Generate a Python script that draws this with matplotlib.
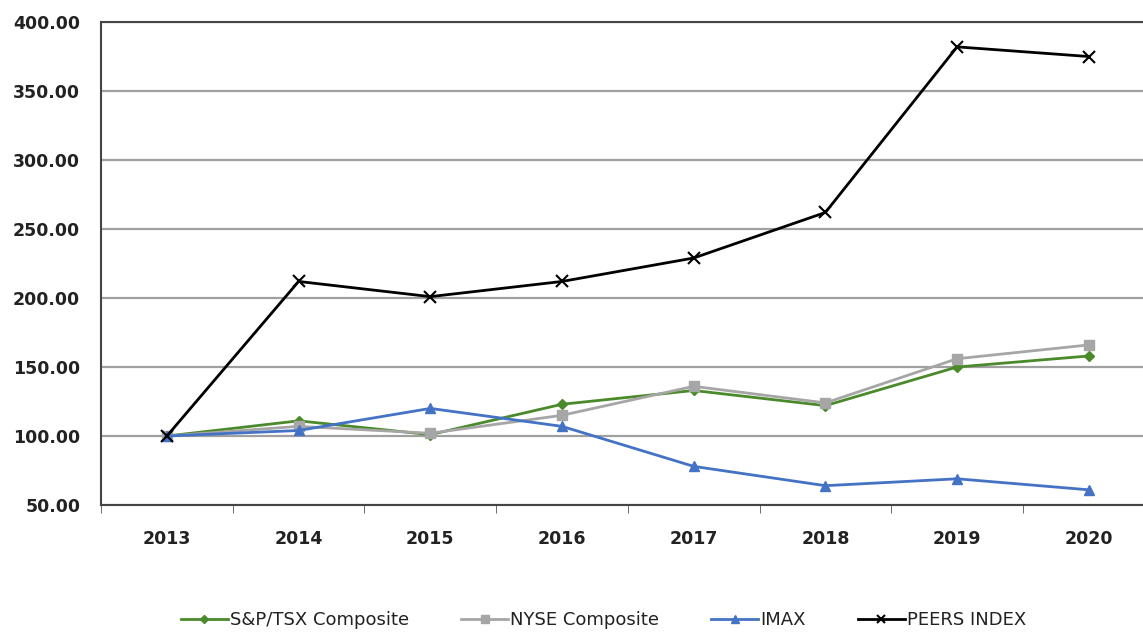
import matplotlib.pyplot as plt
import numpy as np

# Values
years = ['2013', '2014', '2015', '2016', '2017', '2018', '2019', '2020']
sp_tsx = [100, 111, 101, 123, 133, 122, 150, 158]
nyse = [100, 107, 102, 115, 136, 124, 156, 166]
imax = [100, 104, 120, 107, 78, 64, 69, 61]
peers = [100, 212, 201, 212, 229, 262, 382, 375]

fig = plt.figure(figsize=(11.43, 6.33), dpi=100)
ax = fig.add_axes([0.0884, 0.2022, 0.9218, 0.763])

x = np.arange(len(years))
ax.plot(x, sp_tsx, color='#4a8a2a', lw=2, marker='D', ms=5, label='S&P/TSX Composite')
ax.plot(x, nyse, color='#a6a6a6', lw=2, marker='s', ms=7, label='NYSE Composite')
ax.plot(x, imax, color='#4472c4', lw=2, marker='^', ms=7, label='IMAX')
ax.plot(x, peers, color='black', lw=2, marker='x', ms=8, mew=1.5, label='PEERS INDEX')

ax.set_ylim(50, 400)
ax.set_yticks(np.arange(50, 401, 50))
ax.set_yticklabels([f'{v:.2f}' for v in np.arange(50, 401, 50)])
ax.set_xlim(-0.5, len(years) - 0.5)
ax.set_xticks(x)
ax.set_xticklabels(years)
ax.set_xticks(np.arange(-0.5, len(years), 1), minor=True)
ax.tick_params(axis='x', which='major', length=0, pad=18)
ax.tick_params(axis='x', which='minor', length=6, color='#555555')
ax.tick_params(axis='y', length=0, pad=15)
for lab in ax.get_xticklabels() + ax.get_yticklabels():
    lab.set_fontweight('bold')
    lab.set_fontsize(12.5)
    lab.set_color('#222222')

ax.yaxis.grid(True, color='#a0a0a0', lw=1.6)
ax.set_axisbelow(True)
for s in ['left', 'top', 'bottom']:
    ax.spines[s].set_color('#444444')
    ax.spines[s].set_linewidth(1.5)
ax.spines['right'].set_visible(False)

leg = fig.legend(loc='center', bbox_to_anchor=(0.528, 0.0205), ncol=4, frameon=False,
                 prop={'family': 'DejaVu Sans', 'size': 13}, handlelength=2.6,
                 columnspacing=2.9, handletextpad=0.1, markerscale=0.75)
for t in leg.get_texts():
    t.set_color('#222222')

fig.savefig('out.png', dpi=100)
